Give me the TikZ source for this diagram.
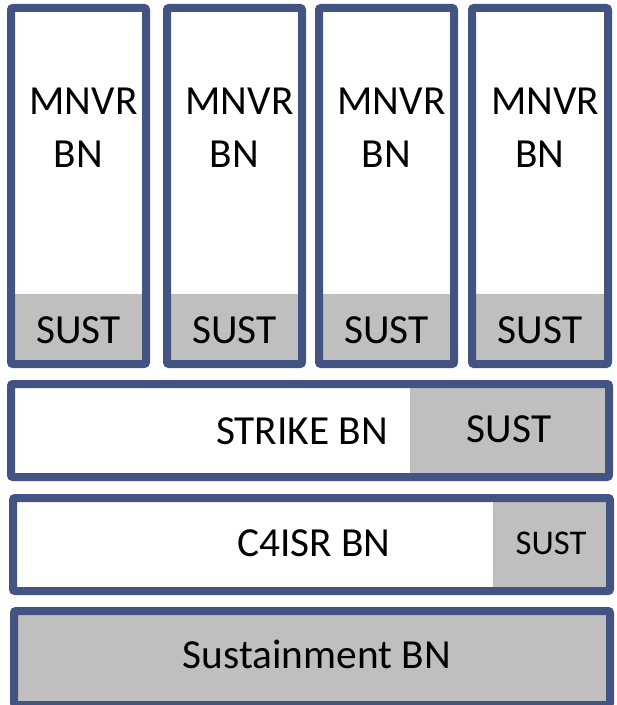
\documentclass[tikz,border=0pt]{standalone}
\usepackage{fontspec}
\setmainfont{Carlito}
\definecolor{bnblue}{HTML}{435382}
\definecolor{sustgray}{HTML}{BFBFBF}

\begin{document}
\begin{tikzpicture}[x=0.75pt,y=-0.75pt,
  unit/.style={draw=bnblue,line width=6pt,rounded corners=1.5pt},
  lbl/.style={inner sep=0pt,font=\fontsize{31}{36}\selectfont}]
\fill[white] (0,0) rectangle (616,705);
\useasboundingbox (0,0) rectangle (616,705);
% manoeuvre battalions, each with its own support strip
\foreach \l/\r [count=\i] in {11/146,167/302,319/454,472/608}{
  \fill[sustgray] (\l,294) rectangle (\r,364);
  \draw[unit] (\l,8) rectangle (\r,364);
  \node[lbl] (mnvr\i) at ({(\l+\r)/2+5},101) {MNVR};
  \node[lbl] (bn\i) at ({(\l+\r)/2},154) {BN};
  \node[lbl] (sust\i) at ({(\l+\r)/2},330) {SUST};
}
% strike
\fill[sustgray] (410,384) rectangle (609,477);
\draw[unit] (11,384) rectangle (609,477);
\node[lbl] (strike) at (302,431) {STRIKE BN};
\node[lbl] (strikesust) at (509,429) {SUST};
% c4isr
\fill[sustgray] (493,498) rectangle (610,591);
\draw[unit] (13,498) rectangle (610,591);
\node[lbl] (c4isr) at (314,543) {C4ISR BN};
\node[lbl,font=\fontsize{26}{30}\selectfont] (c4sust) at (551,543) {SUST};
% sustainment
\draw[unit,fill=sustgray] (14,611) rectangle (610,705);
\node[lbl] (sustbn) at (317,654) {Sustainment BN};
\end{tikzpicture}
\end{document}
